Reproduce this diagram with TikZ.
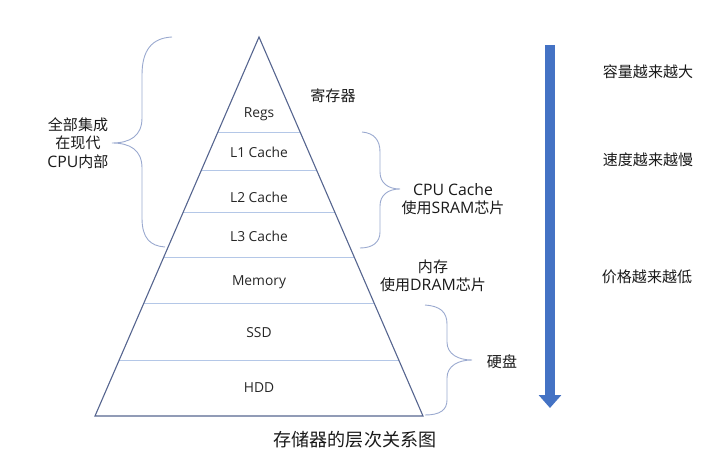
\documentclass[tikz,border=0pt]{standalone}
\usepackage{fontspec}
\setmainfont{Open Sans}
\newfontfamily\cjk[Scale=0.95]{Noto Sans CJK SC}
\usetikzlibrary{calc,arrows.meta}

\definecolor{edgeblue}{HTML}{56658F}
\definecolor{layerblue}{HTML}{B4C7E7}
\definecolor{braceblue}{HTML}{9AA9CF}
\definecolor{arrowblue}{HTML}{4472C4}

\begin{document}
\begin{tikzpicture}[
  x=1pt, y=-1pt,
  layer/.style = {font=\fontsize{13.8}{16}\selectfont, text=black!85},
  note/.style = {align=center, font=\fontsize{15.8}{18.5}\selectfont, text=black!90},
  curly/.style = {draw=braceblue, line width=0.9pt},
  bigarrow/.style = {draw=arrowblue, line width=10pt, -{Triangle[width=22pt,length=13pt]}}
]
\useasboundingbox (0,0) rectangle (718,449);

% Pyramid outline: apex at top, base at y=416
\coordinate (apex) at (259,37);
\coordinate (bl) at (95,416);
\coordinate (br) at (423,416);

% Layer separators (fractions of the height)
\foreach \t in {0.2525,0.3509,0.4625,0.5813,0.7026,0.8541}
  \draw [layerblue, line width=0.9pt] ($(apex)!\t!(bl)$) -- ($(apex)!\t!(br)$);

\draw [edgeblue, line width=1.1pt, line join=miter] (apex) -- (bl) -- (br) -- cycle;

% Layer labels
\node [layer] (regs) at (259,114) {Regs};
\node [layer] (lone) at (259,152) {L1 Cache};
\node [layer] (ltwo) at (259,197) {L2 Cache};
\node [layer] (lthree) at (259,236) {L3 Cache};
\node [layer] (memory) at (259,282) {Memory};
\node [layer] (ssd) at (259,333) {SSD};
\node [layer] (hdd) at (259,388) {HDD};

% Notes beside the pyramid
\node [note] (regnote) at (333,96) {\cjk 寄存器};
\node [note] (cachenote) at (453,199) {CPU Cache\\{\cjk 使用}SRAM{\cjk 芯片}};
\node [note] (memnote) at (433,276) {{\cjk 内存}\\{\cjk 使用}DRAM{\cjk 芯片}};
\node [note] (disknote) at (502,362) {\cjk 硬盘};
\node [note] (cpunote) at (78,143) {{\cjk 全部集成}\\{\cjk 在现代}\\CPU{\cjk 内部}};

% Braces
\draw [curly] (172,37) .. controls (152,38) and (142,50) .. (142,75)
  -- (142,118) .. controls (142,136) and (130,143) .. (112,143)
  .. controls (130,143) and (142,150) .. (142,168)
  -- (142,218) .. controls (142,238) and (150,246) .. (165,247);
\draw [curly] (362,132) .. controls (374,133) and (380,140) .. (380,152)
  -- (380,172) .. controls (380,183) and (388,189) .. (400,189)
  .. controls (388,189) and (380,195) .. (380,206)
  -- (380,232) .. controls (380,242) and (373,248) .. (360,248);
\draw [curly] (425,305) .. controls (440,306) and (447,312) .. (447,324)
  -- (447,342) .. controls (447,354) and (458,360) .. (472,360)
  .. controls (458,360) and (447,366) .. (447,378)
  -- (447,400) .. controls (447,410) and (440,415) .. (425,415);

% Trend arrow and its texts
\coordinate (arrtop) at (550,45);
\coordinate (arrbot) at (550,408);
\draw [bigarrow] (arrtop) -- (arrbot);

\node [note] (capacity) at (648,72) {\cjk 容量越来越大};
\node [note] (speed) at (648,160) {\cjk 速度越来越慢};
\node [note] (price) at (647,277) {\cjk 价格越来越低};

% Caption
\node [font=\fontsize{19}{22}\selectfont\cjk, text=black!90] (caption) at (355,440) {存储器的层次关系图};

\end{tikzpicture}
\end{document}
